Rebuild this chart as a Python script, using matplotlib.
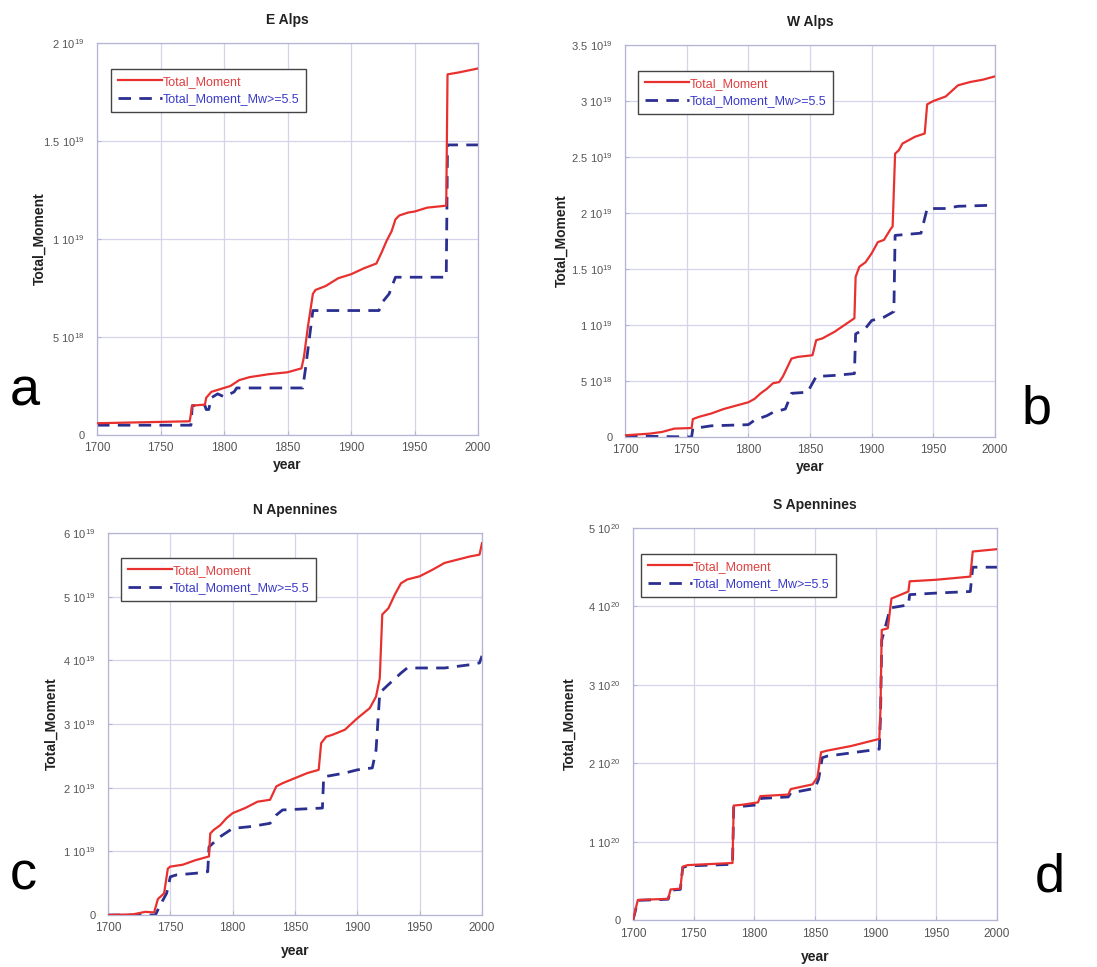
import numpy as np
import matplotlib
matplotlib.use("Agg")
import matplotlib.pyplot as plt
from matplotlib.ticker import FuncFormatter, FixedLocator

plt.rcParams['font.family'] = ['Liberation Sans', 'DejaVu Sans']
plt.rcParams['mathtext.fontset'] = 'custom'
plt.rcParams['mathtext.rm'] = 'Liberation Sans'

# ---------------- data (years, cumulative seismic moment) ----------------
titles = ["E Alps", "W Alps", "N Apennines", "S Apennines"]
panel_letters = ["a", "b", "c", "d"]
series_names = ["Total_Moment", "Total_Moment_Mw>=5.5"]
scales = [1e19, 1e19, 1e19, 1e20]
ymax_units = [2.0, 3.5, 6.0, 5.0]
ystep_units = [0.5, 0.5, 1.0, 1.0]
xticks = [1700, 1750, 1800, 1850, 1900, 1950, 2000]

# E Alps (units of 1e19)
ea_total_years = [1700, 1773, 1775, 1785, 1786, 1790, 1800, 1805, 1812, 1820,
                  1835, 1850, 1861, 1863, 1866, 1870, 1872, 1880, 1890, 1900,
                  1910, 1920, 1924, 1928, 1932, 1935, 1938, 1945, 1950, 1960,
                  1975, 1976, 1985, 2000]
ea_total_vals = [0.06, 0.07, 0.15, 0.155, 0.19, 0.22, 0.24, 0.25, 0.28, 0.295,
                 0.31, 0.32, 0.34, 0.40, 0.55, 0.72, 0.74, 0.76, 0.80, 0.82,
                 0.85, 0.875, 0.93, 0.99, 1.04, 1.10, 1.12, 1.135, 1.14, 1.16,
                 1.17, 1.84, 1.85, 1.87]
ea_big_years = [1700, 1774, 1775, 1785, 1786, 1788, 1790, 1795, 1800, 1808,
                1810, 1862, 1864, 1870, 1922, 1925, 1930, 1935, 1975, 1976, 2000]
ea_big_vals = [0.05, 0.05, 0.15, 0.15, 0.13, 0.13, 0.19, 0.21, 0.195, 0.22,
               0.24, 0.24, 0.33, 0.635, 0.635, 0.68, 0.72, 0.805, 0.805, 1.48, 1.48]

# W Alps (units of 1e19)
wa_total_years = [1700, 1720, 1730, 1740, 1754, 1755, 1760, 1770, 1780, 1790,
                  1800, 1805, 1810, 1815, 1820, 1825, 1828, 1835, 1840, 1852,
                  1855, 1860, 1870, 1880, 1886, 1887, 1890, 1895, 1900, 1905,
                  1910, 1915, 1917, 1919, 1922, 1925, 1930, 1935, 1943, 1945,
                  1950, 1960, 1965, 1970, 1980, 1990, 2000]
wa_total_vals = [0.015, 0.03, 0.045, 0.075, 0.08, 0.16, 0.18, 0.21, 0.25, 0.28,
                 0.31, 0.34, 0.39, 0.43, 0.48, 0.49, 0.54, 0.70, 0.715, 0.73,
                 0.864, 0.88, 0.94, 1.015, 1.06, 1.43, 1.52, 1.56, 1.64, 1.74,
                 1.76, 1.85, 1.88, 2.53, 2.56, 2.62, 2.65, 2.68, 2.71, 2.97,
                 3.0, 3.04, 3.09, 3.14, 3.17, 3.19, 3.22]
wa_big_years = [1700, 1754, 1755, 1770, 1800, 1805, 1815, 1820, 1830, 1835,
                1848, 1855, 1870, 1886, 1887, 1895, 1900, 1910, 1918, 1919,
                1940, 1945, 1960, 1970, 2000]
wa_big_vals = [0.01, 0.0, 0.075, 0.10, 0.11, 0.15, 0.19, 0.22, 0.25, 0.39,
               0.40, 0.54, 0.55, 0.566, 0.92, 0.97, 1.04, 1.07, 1.12, 1.80,
               1.82, 2.04, 2.04, 2.06, 2.07]

# N Apennines (units of 1e19)
na_total_years = [1700, 1720, 1730, 1737, 1740, 1745, 1748, 1750, 1760, 1770,
                  1781, 1782, 1785, 1790, 1795, 1800, 1810, 1820, 1830, 1835,
                  1840, 1850, 1860, 1869, 1871, 1875, 1880, 1890, 1900, 1910,
                  1915, 1918, 1920, 1925, 1930, 1935, 1940, 1950, 1960, 1970,
                  1980, 1990, 1998, 2000]
na_total_vals = [0.0, 0.01, 0.05, 0.04, 0.25, 0.34, 0.73, 0.76, 0.79, 0.86,
                 0.92, 1.28, 1.34, 1.41, 1.52, 1.6, 1.68, 1.78, 1.81, 2.02,
                 2.07, 2.15, 2.23, 2.28, 2.70, 2.80, 2.83, 2.91, 3.09, 3.25,
                 3.43, 3.72, 4.72, 4.82, 5.03, 5.21, 5.27, 5.32, 5.42, 5.53,
                 5.58, 5.63, 5.66, 5.84]
na_big_years = [1700, 1738, 1742, 1747, 1750, 1755, 1770, 1780, 1781, 1790,
                1800, 1815, 1830, 1835, 1840, 1872, 1873, 1890, 1900, 1912,
                1915, 1918, 1925, 1935, 1940, 1970, 1990, 1998, 2000]
na_big_vals = [0.0, 0.0, 0.16, 0.34, 0.60, 0.63, 0.655, 0.68, 1.07, 1.23,
               1.36, 1.39, 1.44, 1.57, 1.65, 1.68, 2.17, 2.23, 2.28, 2.31,
               2.59, 3.49, 3.62, 3.80, 3.88, 3.88, 3.93, 3.96, 4.07]

# S Apennines (units of 1e20)
sa_total_years = [1700, 1702, 1704, 1729, 1731, 1739, 1741, 1745, 1782, 1783,
                  1790, 1803, 1805, 1828, 1830, 1848, 1852, 1855, 1860, 1880,
                  1903, 1904, 1905, 1910, 1913, 1927, 1928, 1950, 1978, 1980,
                  2000]
sa_total_vals = [0.0, 0.13, 0.256, 0.27, 0.39, 0.40, 0.68, 0.70, 0.727, 1.46,
                 1.47, 1.50, 1.58, 1.60, 1.67, 1.73, 1.82, 2.14, 2.16, 2.22,
                 2.31, 2.7, 3.70, 3.72, 4.10, 4.19, 4.32, 4.34, 4.38, 4.70,
                 4.73]
sa_big_years = [1700, 1702, 1704, 1729, 1731, 1739, 1741, 1745, 1782, 1783,
                1790, 1803, 1805, 1828, 1830, 1850, 1853, 1856, 1860, 1903,
                1904, 1905, 1908, 1912, 1927, 1928, 1950, 1978, 1980, 2000]
sa_big_vals = [0.0, 0.12, 0.25, 0.265, 0.38, 0.39, 0.67, 0.69, 0.71, 1.44,
               1.45, 1.47, 1.55, 1.57, 1.62, 1.68, 1.80, 2.07, 2.09, 2.18,
               2.6, 3.57, 3.74, 3.98, 4.02, 4.15, 4.17, 4.19, 4.50, 4.50]

totals = [(ea_total_years, ea_total_vals), (wa_total_years, wa_total_vals),
          (na_total_years, na_total_vals), (sa_total_years, sa_total_vals)]
bigs = [(ea_big_years, ea_big_vals), (wa_big_years, wa_big_vals),
        (na_big_years, na_big_vals), (sa_big_years, sa_big_vals)]

# ---------------- layout ----------------
W, H = 1097, 967
fig = plt.figure(figsize=(W / 100, H / 100), dpi=100)
fig.patch.set_facecolor('white')

# axes boxes in pixels: left, right, top, bottom
boxes = [(97, 478, 43, 435), (625, 995, 45, 437),
         (108, 482, 533, 915), (633, 997, 528, 920)]
legend_anchor = [(0.037, 0.934), (0.035, 0.934), (0.035, 0.935), (0.022, 0.934)]
letter_pos = [(10, 405), (1022, 423), (10, 890), (1035, 891)]
ylabel_x_px = [47, 569, 59, 577]
xlabel_pad = [3, 3, 7, 7]
xtick_pad = [5, 5, 5, 6]

red = '#e8312f'
blue = '#2b2f8f'
grid_c = '#d4d4ec'
spine_c = '#b4b4d4'
tick_c = '#555555'


def fmt_moment(v, pos):
    if abs(v) < 1e-6:
        return '0'
    e = int(np.floor(np.log10(v) + 1e-9))
    m = round(v / 10 ** e, 3)
    return r'$\mathregular{%g\ 10^{%d}}$' % (m, e)


for i in range(4):
    l, r, t, b = boxes[i]
    ax = fig.add_axes([l / W, 1 - b / H, (r - l) / W, (b - t) / H])
    sc = scales[i]
    ty, tv = totals[i]
    by, bv = bigs[i]
    ax.plot(ty, np.array(tv) * sc, color=red, lw=1.6, label=series_names[0], zorder=3)
    ax.plot(by, np.array(bv) * sc, color=blue, lw=2.0, ls=(0, (4.5, 3)),
            label=series_names[1], zorder=2)
    ax.set_xlim(1700, 2000)
    ax.set_ylim(0, ymax_units[i] * sc)
    yt = np.arange(0, ymax_units[i] + 1e-9, ystep_units[i]) * sc
    ax.yaxis.set_major_locator(FixedLocator(yt))
    ax.yaxis.set_major_formatter(FuncFormatter(fmt_moment))
    ax.set_xticks(xticks)
    ax.grid(True, color=grid_c, lw=0.9)
    ax.set_axisbelow(True)
    for s in ax.spines.values():
        s.set_color(spine_c)
        s.set_linewidth(0.9)
    ax.tick_params(direction='in', length=3, color=spine_c, labelcolor=tick_c)
    ax.tick_params(axis='y', labelsize=8, pad=9)
    ax.tick_params(axis='x', labelsize=8.5, pad=xtick_pad[i])
    ax.set_title(titles[i], fontsize=10, fontweight='bold', pad=14, color='#222222')
    ax.set_xlabel('year', fontsize=10, fontweight='bold', color='#222222',
                  labelpad=xlabel_pad[i])
    ax.set_ylabel('Total_Moment', fontsize=10, fontweight='bold', color='#222222')
    ax.yaxis.set_label_coords((ylabel_x_px[i] - l) / (r - l), 0.5)
    leg = ax.legend(loc='upper left', bbox_to_anchor=legend_anchor[i], fontsize=9,
                    handlelength=3.5, handletextpad=0.1, borderpad=0.55,
                    labelspacing=0.45, borderaxespad=0, fancybox=False,
                    framealpha=1, edgecolor='#444444')
    leg.get_frame().set_linewidth(1.0)
    leg.get_texts()[0].set_color('#e04040')
    leg.get_texts()[1].set_color('#3a3ac8')
    lx, ly = letter_pos[i]
    fig.text(lx / W, 1 - ly / H, panel_letters[i], fontsize=39, va='baseline',
             ha='left', color='black')

fig.savefig('out.png', dpi=100, facecolor='white')
